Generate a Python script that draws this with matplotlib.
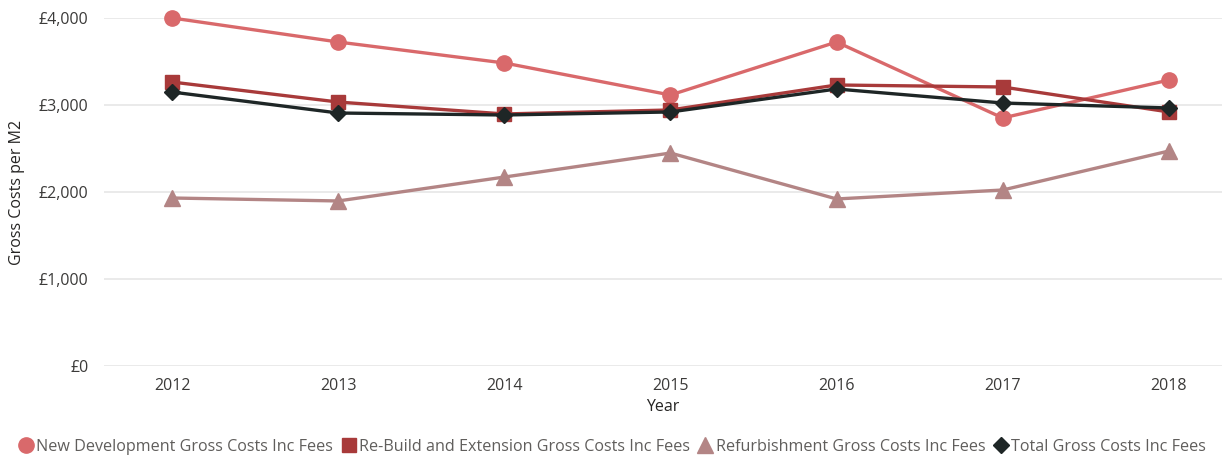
import matplotlib
matplotlib.use("Agg")
import matplotlib.pyplot as plt
from matplotlib.ticker import FuncFormatter

years = [2012, 2013, 2014, 2015, 2016, 2017, 2018]
new_dev = [4000, 3724, 3483, 3115, 3724, 2851, 3287]
rebuild = [3264, 3034, 2897, 2943, 3230, 3207, 2920]
refurb = [1931, 1897, 2172, 2448, 1920, 2023, 2471]
total = [3149, 2908, 2885, 2920, 3184, 3023, 2966]
series_names = ["New Development Gross Costs Inc Fees",
                "Re-Build and Extension Gross Costs Inc Fees",
                "Refurbishment Gross Costs Inc Fees",
                "Total Gross Costs Inc Fees"]
y_ticks = [0, 1000, 2000, 3000, 4000]

plt.rcParams['font.family'] = ['Open Sans', 'DejaVu Sans']

fig = plt.figure(figsize=(12.31, 4.59), dpi=100)
ax = fig.add_axes([104/1231, 1-366/459, (1222-104)/1231, (366-18)/459])

styles = [
    (new_dev, "#D9696B", "o", 11),
    (rebuild, "#A83A3A", "s", 10),
    (refurb, "#B38585", "^", 11),
    (total, "#1E2626", "D", 8),
]
handles = []
for (vals, col, mk, ms), name in zip(styles, series_names):
    h, = ax.plot(years, vals, color=col, lw=2.4, marker=mk, markersize=ms,
                 label=name, clip_on=False, zorder=3)
    handles.append(h)

ax.set_xlim(2011.59, 2018.32)
ax.set_ylim(0, 4000)
ax.set_yticks(y_ticks)
ax.yaxis.set_major_formatter(FuncFormatter(lambda v, p: f"£{int(v):,}"))
ax.set_xticks(years)
ax.grid(axis='y', color='#E8E8E8', lw=1.3)
ax.set_axisbelow(True)
for s in ax.spines.values():
    s.set_visible(False)
ax.tick_params(axis='both', length=0, labelsize=11.5, labelcolor='#3B3A39')
ax.tick_params(axis='x', pad=9)
ax.tick_params(axis='y', pad=11)
ax.set_xlabel("Year", fontsize=11.5, color='#252423', labelpad=3)
ax.set_ylabel("Gross Costs per M2", fontsize=11.5, color='#252423', labelpad=10)

leg = fig.legend(handles=handles, loc='center left', bbox_to_anchor=(0.01, 1-447/459),
                 ncol=4, frameon=False, fontsize=11.6, handlelength=0.9,
                 handletextpad=0.2, columnspacing=0.5, borderaxespad=0)
for t in leg.get_texts():
    t.set_color('#605E5C')
for lh in leg.legend_handles:
    lh.set_linestyle('none')

fig.savefig("out.png", dpi=100)
